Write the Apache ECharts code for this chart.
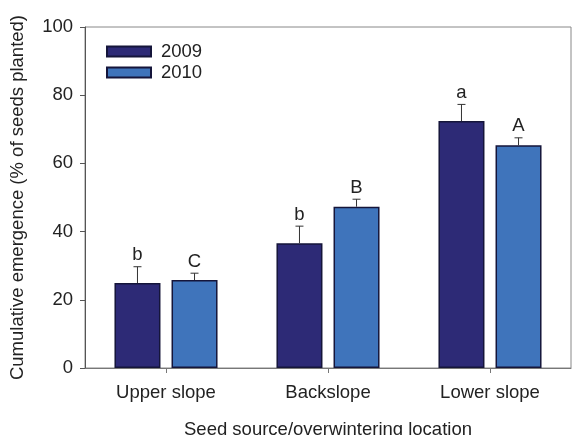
<!DOCTYPE html>
<html>
<head>
<meta charset="utf-8">
<script src="https://cdn.jsdelivr.net/npm/echarts@6/dist/echarts.min.js"></script>
<style>
  html, body { margin: 0; padding: 0; background: #fff; }
  #chart { width: 572px; height: 435px; }
</style>
</head>
<body>
<div id="chart"></div>
<script>
// Cumulative emergence by seed source / overwintering location
const categories = ['Upper slope', 'Backslope', 'Lower slope'];
const years = ['2009', '2010'];
const mean2009 = [24.9, 36.6, 72.4];
const mean2010 = [25.8, 47.3, 65.3];
const err2009 = [4.8, 5.0, 4.9];
const err2010 = [2.0, 2.2, 2.2];
const letters2009 = ['b', 'b', 'a'];
const letters2010 = ['C', 'B', 'A'];
const yTicks = [0, 20, 40, 60, 80, 100];

const FONT = 'Liberation Sans, Arial, sans-serif';
const FS = 18.5;
const BAR_W = 0.284;   // fraction of category band
const BAR_GAP = 0.24;  // fraction of bar width
const colors = ['#2d2a76', '#3f74bb'];

function errorSeries(means, errs, letters, side) {
  const data = means.map((m, i) => [i, m, errs[i], letters[i]]);
  return {
    type: 'custom',
    silent: true,
    z: 5,
    data: data,
    encode: { x: 0, y: 1 },
    renderItem: function (params, api) {
      const idx = api.value(0);
      const band = api.size([1, 0])[0];
      const w = band * BAR_W;
      const off = side * (w + w * BAR_GAP) / 2;
      const base = api.coord([idx, api.value(1)]);
      const top = api.coord([idx, api.value(1) + api.value(2)]);
      const x = base[0] + off;
      const cap = 4;
      const style = { stroke: '#333', lineWidth: 1 };
      return {
        type: 'group',
        children: [
          { type: 'line', shape: { x1: x, y1: base[1], x2: x, y2: top[1] }, style: style },
          { type: 'line', shape: { x1: x - cap, y1: top[1], x2: x + cap, y2: top[1] }, style: style },
          {
            type: 'text',
            style: {
              text: api.value(3),
              x: x, y: top[1] - 2,
              align: 'center', verticalAlign: 'bottom',
              font: FS + 'px ' + FONT,
              fill: '#222'
            }
          }
        ]
      };
    }
  };
}

const chart = echarts.init(document.getElementById('chart'), null, { renderer: 'canvas' });
chart.setOption({
  animation: false,
  backgroundColor: '#fff',
  textStyle: { fontFamily: FONT },
  grid: {
    left: 85, right: 1, top: 27, bottom: 67,
    outerBoundsMode: 'none', containLabel: false,
    show: true, borderColor: '#888', borderWidth: 1
  },
  legend: {
    left: 106, top: 42, orient: 'vertical', padding: 0,
    itemWidth: 44, itemHeight: 10, itemGap: 2,
    icon: 'rect',
    data: years,
    textStyle: { fontSize: FS, color: '#222', fontFamily: FONT, padding: [0, 0, 0, 5] }
  },
  xAxis: {
    type: 'category',
    data: categories,
    name: 'Seed source/overwintering location',
    nameLocation: 'middle',
    nameGap: 52,
    nameTextStyle: { fontSize: FS, color: '#222', fontFamily: FONT },
    axisLine: { lineStyle: { color: '#777', width: 1 } },
    axisTick: { show: true, alignWithLabel: true, length: 5, lineStyle: { color: '#777' } },
    axisLabel: { fontSize: FS, color: '#222', margin: 15, fontFamily: FONT }
  },
  yAxis: {
    type: 'value',
    min: yTicks[0], max: yTicks[yTicks.length - 1], interval: yTicks[1] - yTicks[0],
    name: 'Cumulative emergence (% of seeds planted)',
    nameLocation: 'middle',
    nameGap: 58,
    nameTextStyle: { fontSize: FS, color: '#222', fontFamily: FONT },
    axisLine: { show: true, lineStyle: { color: '#555', width: 1 } },
    axisTick: { show: true, length: 5, lineStyle: { color: '#555' } },
    axisLabel: { fontSize: FS, color: '#222', margin: 12, fontFamily: FONT },
    splitLine: { show: false }
  },
  series: [
    {
      name: years[0], type: 'bar', data: mean2009,
      barWidth: (BAR_W * 100) + '%', barGap: (BAR_GAP * 100) + '%',
      itemStyle: { color: colors[0], borderColor: '#15153a', borderWidth: 1.5 }
    },
    {
      name: years[1], type: 'bar', data: mean2010,
      barWidth: (BAR_W * 100) + '%', barGap: (BAR_GAP * 100) + '%',
      itemStyle: { color: colors[1], borderColor: '#15153a', borderWidth: 1.5 }
    },
    errorSeries(mean2009, err2009, letters2009, -1),
    errorSeries(mean2010, err2010, letters2010, 1)
  ]
});
</script>
</body>
</html>
